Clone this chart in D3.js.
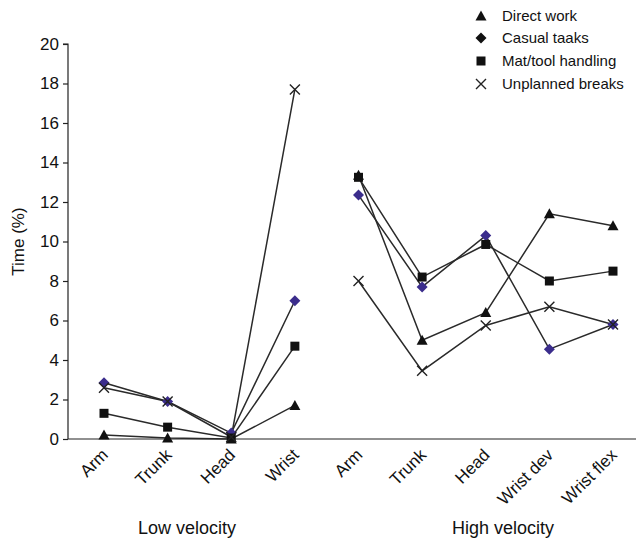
<!DOCTYPE html>
<html><head><meta charset="utf-8">
<script src="https://cdn.jsdelivr.net/npm/d3@7"></script>
<style>body{margin:0;background:#fff}svg{font-family:"Liberation Sans",Arial,sans-serif}</style>
</head><body>
<svg id="c" width="639" height="541"></svg>
<script>
const lowCats = ["Arm","Trunk","Head","Wrist"];
const highCats = ["Arm","Trunk","Head","Wrist dev","Wrist flex"];
const groups = ["Low velocity","High velocity"];
const seriesNames = ["Direct work","Casual taaks","Mat/tool handling","Unplanned breaks"];
const directLow = [0.2,0.05,0.0,1.7];
const directHigh = [13.35,5.0,6.4,11.4,10.8];
const casualLow = [2.85,1.9,0.3,7.0];
const casualHigh = [12.35,7.7,10.3,4.55,5.8];
const matLow = [1.3,0.6,0.05,4.7];
const matHigh = [13.25,8.2,9.85,8.0,8.5];
const breaksLow = [2.6,1.9,0.1,17.7];
const breaksHigh = [8.0,3.45,5.75,6.7,5.8];
const yTicks = [0,2,4,6,8,10,12,14,16,18,20];

const svg = d3.select("#c");
const keys = lowCats.map(c=>"L|"+c).concat(highCats.map(c=>"H|"+c));
const x = d3.scalePoint().domain(keys).range([104,613]);
const y = d3.scaleLinear().domain([0,20]).range([439,44]);
const axisX0 = 68;

// y axis
const ya = svg.append("g").attr("transform",`translate(${axisX0},0)`)
  .call(d3.axisLeft(y).tickValues(yTicks).tickSize(5).tickPadding(4).tickFormat(d3.format("d")));
ya.select(".domain").attr("stroke","#222").attr("stroke-width",1.2).attr("d",`M-5,${y(20)}H0V${y(0)}`);
ya.selectAll(".tick line").attr("stroke","#222").attr("stroke-width",1.2);
ya.selectAll(".tick text").attr("font-size",17).attr("fill","#111").attr("font-family","Liberation Sans, Arial, sans-serif");
svg.append("text").attr("transform",`translate(24,${y(10)}) rotate(-90)`).attr("text-anchor","middle")
  .attr("font-size",17).attr("fill","#111").text("Time (%)");

// x axis
svg.append("line").attr("x1",axisX0).attr("x2",636).attr("y1",y(0)).attr("y2",y(0)).attr("stroke","#222").attr("stroke-width",1.2);
keys.forEach(k=>{
  const lab = k.split("|")[1];
  svg.append("text").attr("transform",`translate(${x(k)-4},${y(0)+8}) rotate(-45)`)
    .attr("text-anchor","end").attr("dy","0.75em").attr("font-size",17).attr("fill","#111").text(lab);
});
svg.append("text").attr("x",187).attr("y",534).attr("text-anchor","middle").attr("font-size",18).attr("fill","#111").text(groups[0]);
svg.append("text").attr("x",503).attr("y",534).attr("text-anchor","middle").attr("font-size",18).attr("fill","#111").text(groups[1]);

const series = [
  {name:seriesNames[0], low:directLow, high:directHigh, sym:"tri"},
  {name:seriesNames[1], low:casualLow, high:casualHigh, sym:"dia"},
  {name:seriesNames[2], low:matLow, high:matHigh, sym:"sq"},
  {name:seriesNames[3], low:breaksLow, high:breaksHigh, sym:"x"}
];
const line = d3.line().x(d=>x(d.k)).y(d=>y(d.v));
function marker(g, sym, cx, cy, fillDia){
  if(sym==="tri") g.append("path").attr("d",`M${cx},${cy-5.5}L${cx+5.5},${cy+4.5}L${cx-5.5},${cy+4.5}Z`).attr("fill","#111");
  else if(sym==="dia") g.append("path").attr("d",`M${cx},${cy-5.5}L${cx+5.5},${cy}L${cx},${cy+5.5}L${cx-5.5},${cy}Z`).attr("fill",fillDia||"#3b2d8c");
  else if(sym==="sq") g.append("rect").attr("x",cx-4.5).attr("y",cy-4.5).attr("width",9).attr("height",9).attr("fill","#111");
  else g.append("path").attr("d",`M${cx-5},${cy-5}L${cx+5},${cy+5}M${cx-5},${cy+5}L${cx+5},${cy-5}`).attr("stroke","#222").attr("stroke-width",1.4).attr("fill","none");
}
series.forEach(s=>{
  const lp = lowCats.map((c,i)=>({k:"L|"+c,v:s.low[i]}));
  const hp = highCats.map((c,i)=>({k:"H|"+c,v:s.high[i]}));
  [lp,hp].forEach(pts=>{
    svg.append("path").attr("d",line(pts)).attr("fill","none").attr("stroke","#2a2a2a").attr("stroke-width",1.5);
  });
});
series.forEach(s=>{
  const g = svg.append("g");
  lowCats.forEach((c,i)=>marker(g,s.sym,x("L|"+c),y(s.low[i])));
  highCats.forEach((c,i)=>marker(g,s.sym,x("H|"+c),y(s.high[i])));
});

// legend
const legY = [16,38,61,84];
series.forEach((s,i)=>{
  const g = svg.append("g");
  marker(g, s.sym, 481, legY[i], "#111");
  g.append("text").attr("x",502).attr("y",legY[i]).attr("dy","0.35em").attr("font-size",15).attr("fill","#111").text(s.name);
});
</script>
</body></html>
